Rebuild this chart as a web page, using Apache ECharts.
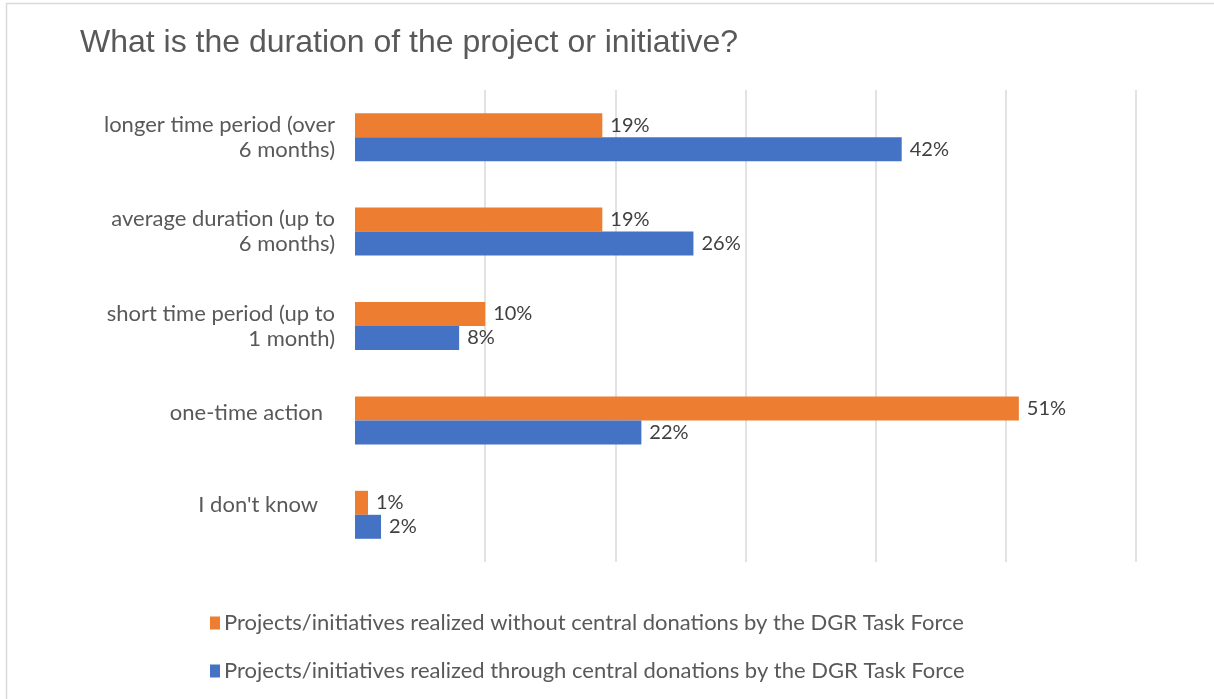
<!DOCTYPE html>
<html>
<head>
<meta charset="utf-8">
<script src="https://cdn.jsdelivr.net/npm/echarts@6/dist/echarts.min.js"></script>
<style>html,body{margin:0;padding:0;background:#fff}#c{width:1214px;height:699px}</style>
</head>
<body>
<div id="c"></div>
<script>
const title = "What is the duration of the project or initiative?";
const categories = [
  "longer time period (over\n6 months)",
  "average duration (up to\n6 months)",
  "short time period (up to\n1 month)",
  "one-time action",
  "I don't know"
];
const seriesNames = [
  "Projects/initiatives realized without central donations by the DGR Task Force",
  "Projects/initiatives realized through central donations by the DGR Task Force"
];
const withoutDonations = [19, 19, 10, 51, 1];
const throughDonations = [42, 26, 8, 22, 2];
const xMin = 0, xMax = 60, xInterval = 10;

// small per-label nudges (Excel places single-line labels slightly differently)
const labelNudges = [null, null, null,
  { padding: [0, 12, 0, 0], verticalAlign: 'bottom', lineHeight: 14 },
  { padding: [0, 17, 0, 0], verticalAlign: 'bottom', lineHeight: 20 }];
const yData = categories.map((c, i) => labelNudges[i] ? { value: c, textStyle: labelNudges[i] } : c);

const chart = echarts.init(document.getElementById('c'));
const labelStyle = {
  show: true, position: 'right', distance: 8,
  formatter: '{c}%', color: '#404040', fontSize: 20, fontFamily: 'Lato'
};
chart.setOption({
  animation: false,
  backgroundColor: '#fff',
  title: {
    text: title, left: 75, top: 22,
    textStyle: { fontFamily: 'Liberation Sans', fontSize: 32, fontWeight: 'normal', color: '#595959' }
  },
  graphic: [{
    type: 'rect', left: 4, top: 1, silent: true,
    shape: { width: 1212, height: 700 },
    style: { fill: 'none', stroke: '#d9d9d9', lineWidth: 1.5 }
  }],
  legend: {
    orient: 'vertical', left: 205, top: 607, itemGap: 26,
    icon: 'rect', itemWidth: 10, itemHeight: 13,
    textStyle: { fontFamily: 'Lato', fontSize: 22, color: '#595959', padding: [0, 0, 0, -1] },
    data: seriesNames
  },
  grid: { left: 355, right: 78, top: 90, bottom: 137, containLabel: false },
  xAxis: {
    type: 'value', min: xMin, max: xMax, interval: xInterval,
    axisLabel: { show: false }, axisLine: { show: false }, axisTick: { show: false },
    splitLine: { show: true, showMinLine: false, lineStyle: { color: '#d9d9d9', width: 1.5 } }
  },
  yAxis: {
    type: 'category', data: yData, inverse: true,
    axisLine: { show: false }, axisTick: { show: false },
    axisLabel: { margin: 20, fontFamily: 'Lato', fontSize: 22, color: '#595959', lineHeight: 25, align: 'right' }
  },
  series: [
    { name: seriesNames[0], type: 'bar', data: withoutDonations, barWidth: 24, barGap: '0%',
      itemStyle: { color: '#ed7d31' }, label: labelStyle },
    { name: seriesNames[1], type: 'bar', data: throughDonations, barWidth: 24, barGap: '0%',
      itemStyle: { color: '#4472c4' }, label: labelStyle }
  ]
});
</script>
</body>
</html>
